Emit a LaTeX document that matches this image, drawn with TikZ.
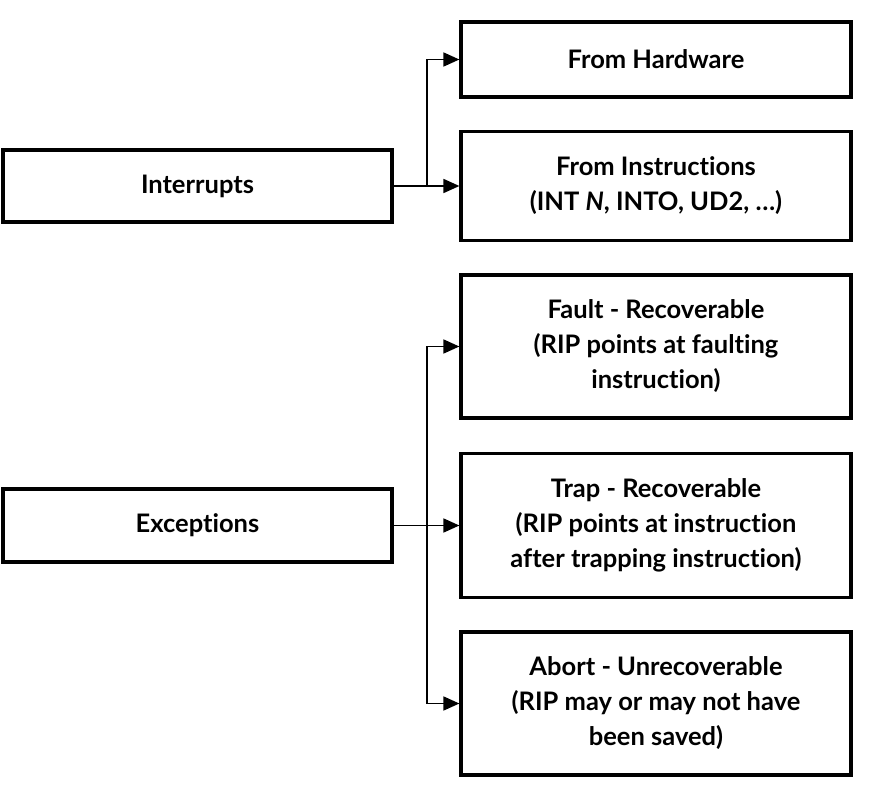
\documentclass[tikz,border=0pt]{standalone}
\usepackage{fontspec}
\setmainfont{Lato}[Ligatures=NoCommon]
\usetikzlibrary{arrows.meta}
\begin{document}
\begin{tikzpicture}[x=1pt,y=-1pt,
  box/.style={draw=black,line width=3.2pt,fill=white,align=center,inner sep=0pt,
    font=\fontsize{25.5}{35}\selectfont\bfseries},
  lbox/.style={box,minimum width=389pt},
  rbox/.style={box,minimum width=390pt},
  conn/.style={line width=1.7pt,-{Triangle[length=16pt,width=14pt]}}]
\useasboundingbox (0,0) rectangle (881,792);
\node[lbox,minimum height=72pt] (int) at (197.5,186) {Interrupts};
\node[lbox,minimum height=73pt] (exc) at (197.5,525.5) {Exceptions};
\node[rbox,minimum height=75pt] (hw) at (656,59.5) {From Hardware};
\node[rbox,minimum height=109pt] (ins) at (656,186) {From Instructions\\(INT \textit{N}, INTO, UD2, \dots)};
\node[rbox,minimum height=143pt] (fault) at (656,346.5) {Fault - Recoverable\\(RIP points at faulting\\instruction)};
\node[rbox,minimum height=144pt] (trap) at (656,525.5) {Trap - Recoverable\\(RIP points at instruction\\after trapping instruction)};
\node[rbox,minimum height=143pt] (abort) at (656,703.5) {Abort - Unrecoverable\\(RIP may or may not have\\been saved)};
\coordinate (j1) at (427,186);
\coordinate (j2) at (427,525.5);
\draw[conn] (int.east) -- (ins.west);
\draw[conn] (j1) |- (hw.west);
\draw[conn] (exc.east) -- (trap.west);
\draw[conn] (j2) |- (fault.west);
\draw[conn] (j2) |- (abort.west);
\end{tikzpicture}
\end{document}
